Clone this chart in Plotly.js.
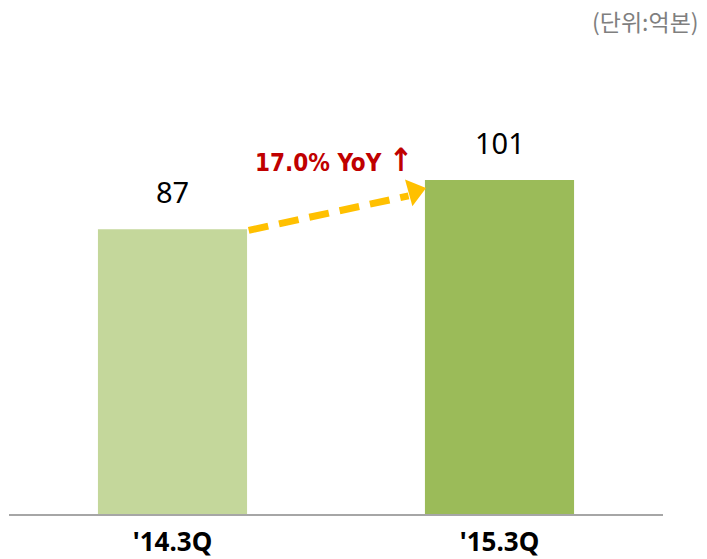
<!DOCTYPE html>
<html>
<head>
<meta charset="utf-8">
<script src="https://cdn.plot.ly/plotly-3.0.1.min.js"></script>
<style>html,body{margin:0;padding:0;background:#fff;}#chart{width:707px;height:559px;}</style>
</head>
<body>
<div id="chart"></div>
<script>
// Data
const categories = ["'14.3Q", "'15.3Q"];
const values = [86.6, 101.6];
const valueLabels = ["87", "101"];
const barColors = ["#C4D79B", "#9BBB59"];
const growthLabel = "17.0% YoY";
const unitLabel = "(단위:억본)";

const bargap = 0.544;
const halfW = (1 - bargap) / 2;
const xIdx = categories.map((c, i) => i);

const bars = {
  type: 'bar',
  x: xIdx,
  y: values,
  marker: {color: barColors},
  width: 1 - bargap,
  hoverinfo: 'none',
  showlegend: false
};

// dashed growth arrow from top of bar 1 to left edge of bar 2
const x0 = xIdx[0] + halfW + 0.005, y0 = values[0] - 0.3;
const xHead = xIdx[1] - halfW, yHead = values[1] - 0.8;
const x1 = xHead - 0.05, y1 = yHead - 4.0;
const arrowLine = {
  type: 'scatter', mode: 'lines',
  x: [x0, x1], y: [y0, y1],
  line: {color: '#FFC000', width: 7, dash: '20px,11px'},
  hoverinfo: 'none', showlegend: false
};
const arrowHead = {
  type: 'scatter', mode: 'markers',
  x: [xHead - 0.032], y: [yHead - 2.6],
  marker: {symbol: 'triangle-right', size: 24, color: '#FFC000', angle: -15.5, line: {width: 0}},
  hoverinfo: 'none', showlegend: false
};

const annotations = [];
xIdx.forEach((x, i) => {
  annotations.push({
    x: x, y: values[i], xref: 'x', yref: 'y', text: valueLabels[i],
    showarrow: false, yanchor: 'bottom', yshift: 16,
    font: {family: 'Noto Sans, Arial, sans-serif', size: 29, color: '#000'}
  });
});
annotations.push({
  x: 0.5, y: (values[0] + values[1]) / 2, xref: 'x', yref: 'y',
  text: growthLabel + ' <span style="font-size:32px">↑</span>',
  showarrow: false, yanchor: 'bottom', yshift: 24, xshift: -2,
  font: {family: 'DejaVu Sans Condensed, DejaVu Sans, sans-serif', size: 24, color: '#C00000', weight: 'bold'}
});
annotations.push({
  x: 1.058, y: 1.0, xref: 'paper', yref: 'paper', text: unitLabel,
  showarrow: false, xanchor: 'right', yanchor: 'middle',
  font: {family: 'Noto Sans CJK KR, sans-serif', size: 23, color: '#7F7F7F'}
});

const layout = {
  width: 707, height: 559,
  margin: {l: 9, r: 44, t: 21, b: 45, pad: 0},
  paper_bgcolor: '#fff', plot_bgcolor: '#fff',
  xaxis: {
    range: [-0.5, 1.5], tickvals: xIdx, ticktext: categories,
    showline: true, linecolor: '#A6A6A6', linewidth: 2, showgrid: false, zeroline: false,
    ticks: '', ticklabelstandoff: 4,
    tickfont: {family: 'Noto Sans, sans-serif', size: 26, color: '#000', weight: 'bold'}
  },
  yaxis: {range: [0, 150], visible: false, fixedrange: true},
  annotations: annotations,
  showlegend: false
};

Plotly.newPlot('chart', [bars, arrowLine, arrowHead], layout, {displayModeBar: false, staticPlot: true});
</script>
</body>
</html>
